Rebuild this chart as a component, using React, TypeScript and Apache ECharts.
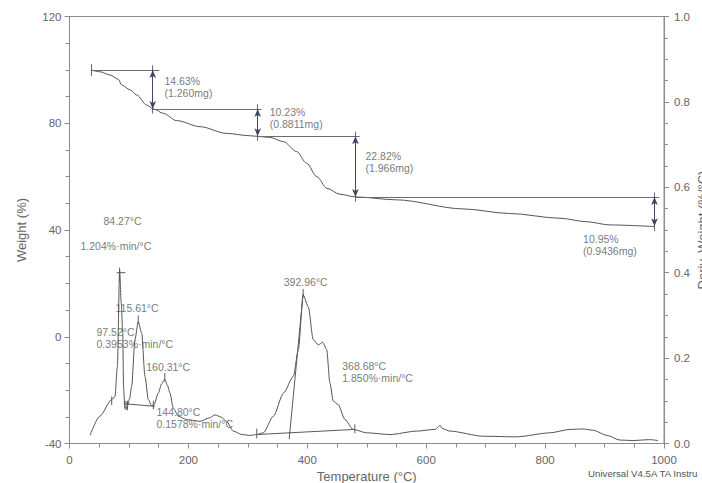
import React, { useEffect, useRef } from "react";
import * as echarts from "echarts";

// ---- TGA weight curve (Temperature °C, Weight %) ----
const tempW = [36, 51, 68, 82, 88, 102, 113, 130, 141, 158, 180, 220, 264, 304, 316, 337, 360, 382, 399, 416, 433, 455, 481, 550, 662, 740, 825, 870, 909, 984];
const weight = [100, 99.3, 98.1, 96.5, 94.3, 92.5, 90.6, 86.8, 85.4, 83.7, 81.0, 78.7, 76.2, 75.3, 75.1, 74.7, 73.1, 69.4, 65.0, 60.0, 55.6, 53.4, 52.4, 51.3, 47.9, 46.2, 44.4, 43.1, 41.9, 41.3];

// ---- DTG derivative curve (Temperature °C, Deriv. Weight %/°C) ----
const tempD = [34.5, 51, 71, 76.5, 80.5, 84.3, 87, 89.5, 91, 93, 97, 101, 104.6, 110, 115.6, 121.4, 127, 132.6, 138, 142, 149.4, 155, 160.3, 165, 169, 174.6, 183, 197, 219.5, 235, 245, 255, 264, 275.5, 290, 303.6, 315, 326, 343, 360, 376.5, 385, 393, 401.7, 410, 418.5, 426, 432.6, 438, 443.7, 452, 463.4, 477, 500, 539, 584, 615, 620, 623, 627, 640, 696, 752, 808, 842, 864, 881, 904, 926, 948, 976, 990];
const deriv = [0.019, 0.064, 0.103, 0.11, 0.18, 0.405, 0.33, 0.26, 0.13, 0.082, 0.085, 0.105, 0.134, 0.243, 0.285, 0.259, 0.157, 0.103, 0.089, 0.09, 0.118, 0.14, 0.15, 0.135, 0.118, 0.083, 0.064, 0.056, 0.052, 0.06, 0.067, 0.062, 0.052, 0.029, 0.021, 0.019, 0.021, 0.025, 0.064, 0.118, 0.157, 0.22, 0.348, 0.32, 0.243, 0.231, 0.237, 0.22, 0.142, 0.099, 0.091, 0.056, 0.033, 0.025, 0.021, 0.029, 0.033, 0.038, 0.043, 0.035, 0.029, 0.017, 0.0156, 0.025, 0.033, 0.034, 0.031, 0.019, 0.008, 0.007, 0.009, 0.007];

// ---- Step analysis (weight losses) ----
const stepLevels = [100, 85.37, 75.14, 52.32, 41.37];
const stepLineStart = [36, 140, 316.5, 481];
const stepLineEnd = [151, 323, 488, 992];
const arrowTemps = [140, 316.5, 481, 984];
const stepStartTick = [36, 102.2, 97.7];

// ---- DTG analysis constructions (Temperature, Deriv) ----
const dtgSegments: number[][][] = [
  [[79.5, 0.4], [94, 0.4]],
  [[84.3, 0.412], [84.3, 0.38]],
  [[93.4, 0.093], [143.8, 0.087]],
  [[71, 0.09], [71, 0.11]],
  [[95, 0.078], [95, 0.1]],
  [[97.5, 0.078], [97.5, 0.1]],
  [[141, 0.08], [141, 0.1]],
  [[115.6, 0.28], [115.6, 0.3]],
  [[160.3, 0.145], [160.3, 0.165]],
  [[393, 0.343], [393, 0.362]],
  [[369.5, 0.01], [393, 0.35]],
  [[315, 0.021], [480, 0.033]],
  [[315, 0.012], [315, 0.035]],
  [[480, 0.024], [480, 0.045]],
];

// ---- Annotations (Temperature, Weight-axis value, text) ----
const annotations: [number, number, string][] = [
  [159, 93.4, "14.63%\n(1.260mg)"],
  [336, 81.9, "10.23%\n(0.8811mg)"],
  [497, 65.3, "22.82%\n(1.966mg)"],
  [863, 34.3, "10.95%\n(0.9436mg)"],
  [56.3, 43.4, "84.27°C"],
  [17.7, 34.1, "1.204%·min/°C"],
  [76.5, 10.7, "115.61°C"],
  [44.6, -0.4, "97.52°C\n0.3953%·min/°C"],
  [128.2, -11.2, "160.31°C"],
  [145.5, -30.3, "144.80°C\n0.1578%·min/°C"],
  [359.6, 20.4, "392.96°C"],
  [457.9, -13.1, "368.68°C\n1.850%·min/°C"],
];

const FONT = "Liberation Sans, Arial, sans-serif";
const AXIS_COLOR = "#8c8c8c";
const LABEL_COLOR = "#666";
const CURVE_COLOR = "#555";

export default function App() {
  const ref = useRef<HTMLDivElement>(null);

  useEffect(() => {
    if (!ref.current) return;
    const chart = echarts.init(ref.current, undefined, { renderer: "svg" });

    const plainLines: any[] = [];
    for (let i = 0; i < stepLineStart.length; i++) {
      plainLines.push([
        { coord: [stepLineStart[i], stepLevels[i]] },
        { coord: [stepLineEnd[i], stepLevels[i]] },
      ]);
      const ext = 1.7;
      plainLines.push([
        { coord: [arrowTemps[i], stepLevels[i] + ext] },
        { coord: [arrowTemps[i], stepLevels[i + 1] - ext] },
      ]);
    }
    plainLines.push([
      { coord: [stepStartTick[0], stepStartTick[1]] },
      { coord: [stepStartTick[0], stepStartTick[2]] },
    ]);

    const arrowLines: any[] = arrowTemps.map((t, i) => [
      { coord: [t, stepLevels[i]] },
      { coord: [t, stepLevels[i + 1]] },
    ]);

    const axisCommon = {
      axisLine: { show: true, onZero: false, lineStyle: { color: AXIS_COLOR, width: 1 } },
      axisTick: { show: true, inside: false, length: 5, lineStyle: { color: AXIS_COLOR } },
      minorTick: { show: true, splitNumber: 4, length: 4, lineStyle: { color: AXIS_COLOR } },
      splitLine: { show: false },
      minorSplitLine: { show: false },
      nameMoveOverlap: false,
    };

    const option: any = {
      animation: false,
      backgroundColor: "#fff",
      textStyle: { fontFamily: FONT },
      grid: {
        left: 69.5,
        right: 38,
        top: 16.5,
        bottom: 39.5,
        containLabel: false,
        outerBoundsMode: "none",
        show: true,
        borderColor: AXIS_COLOR,
        borderWidth: 1,
        backgroundColor: "transparent",
      },
      xAxis: {
        type: "value",
        min: 0,
        max: 1000,
        interval: 200,
        ...axisCommon,
        axisLabel: {
          color: LABEL_COLOR,
          fontSize: 11.5,
          margin: 10,
          fontFamily: FONT,
          formatter: (v: number) => String(v),
        },
        name: "Temperature (°C)",
        nameLocation: "middle",
        nameGap: 26,
        nameTextStyle: { color: LABEL_COLOR, fontSize: 13, fontFamily: FONT },
      },
      yAxis: [
        {
          type: "value",
          min: -40,
          max: 120,
          interval: 40,
          ...axisCommon,
          axisLabel: { color: LABEL_COLOR, fontSize: 11.5, margin: 8, fontFamily: FONT },
          name: "Weight (%)",
          nameLocation: "middle",
          nameGap: 42,
          nameTextStyle: { color: LABEL_COLOR, fontSize: 13, fontFamily: FONT },
        },
        {
          type: "value",
          position: "right",
          min: 0,
          max: 1,
          interval: 0.2,
          ...axisCommon,
          axisLabel: {
            color: LABEL_COLOR,
            fontSize: 11.5,
            margin: 10,
            fontFamily: FONT,
            formatter: (v: number) => v.toFixed(1),
          },
          name: "Deriv. Weight (%/°C)",
          nameLocation: "middle",
          nameRotate: 90,
          nameGap: 32,
          nameTextStyle: { color: LABEL_COLOR, fontSize: 13, fontFamily: FONT },
        },
      ],
      series: [
        {
          name: "Weight",
          type: "line",
          xAxisIndex: 0,
          yAxisIndex: 0,
          data: tempW.map((t, i) => [t, weight[i]]),
          showSymbol: false,
          smooth: 0.3,
          smoothMonotone: "x",
          lineStyle: { color: CURVE_COLOR, width: 1 },
          silent: true,
          markLine: {
            silent: true,
            symbol: ["none", "none"],
            label: { show: false },
            lineStyle: { color: "#6b6b6b", width: 1, type: "solid" },
            data: plainLines,
          },
        },
        {
          name: "Arrows",
          type: "line",
          xAxisIndex: 0,
          yAxisIndex: 0,
          data: [],
          silent: true,
          markLine: {
            silent: true,
            symbol: ["arrow", "arrow"],
            symbolSize: [5, 8],
            label: { show: false },
            lineStyle: { color: "#3d4660", width: 1, type: "solid" },
            data: arrowLines,
          },
        },
        {
          name: "Deriv. Weight",
          type: "line",
          xAxisIndex: 0,
          yAxisIndex: 1,
          data: tempD.map((t, i) => [t, deriv[i]]),
          showSymbol: false,
          smooth: 0.25,
          smoothMonotone: "x",
          lineStyle: { color: CURVE_COLOR, width: 1 },
          silent: true,
        },
        ...dtgSegments.map((seg) => ({
          type: "line",
          xAxisIndex: 0,
          yAxisIndex: 1,
          data: seg,
          showSymbol: false,
          silent: true,
          lineStyle: { color: "#5a5a5a", width: 1 },
        })),
        {
          name: "Annotations",
          type: "scatter",
          xAxisIndex: 0,
          yAxisIndex: 0,
          symbolSize: 1,
          itemStyle: { color: "rgba(0,0,0,0)" },
          silent: true,
          data: annotations.map((a) => ({ value: [a[0], a[1]], name: a[2] })),
          label: {
            show: true,
            position: "right",
            distance: 0,
            formatter: "{b}",
            color: "#555",
            fontSize: 10.5,
            lineHeight: 12,
            fontFamily: FONT,
            align: "left",
          },
        },
      ],
      graphic: [
        {
          type: "text",
          left: 588,
          top: 468,
          silent: true,
          style: {
            text: "Universal V4.5A TA Instru",
            fill: "#555",
            fontSize: 9.7,
            fontFamily: FONT,
          },
        },
      ],
    };

    chart.setOption(option);
    return () => chart.dispose();
  }, []);

  return (
    <div
      ref={ref}
      style={{ position: "fixed", left: 0, top: 0, width: 702, height: 483, background: "#fff" }}
    />
  );
}
